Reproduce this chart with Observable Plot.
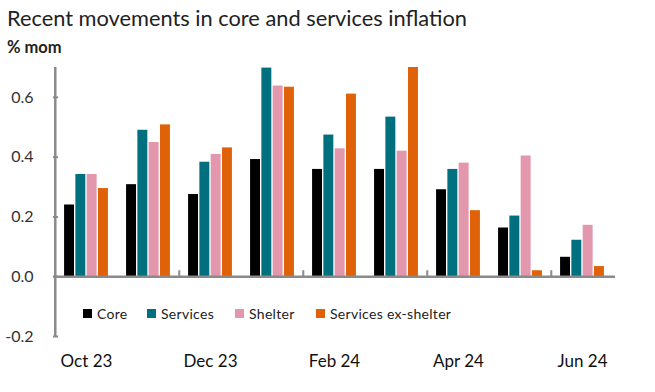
<!DOCTYPE html>
<html><head><meta charset="utf-8">
<script src="https://cdn.jsdelivr.net/npm/d3@7"></script>
<script src="https://cdn.jsdelivr.net/npm/@observablehq/plot@0.6"></script>
<style>
body{margin:0;background:#fff;font-family:Lato,"Open Sans",sans-serif;}
#wrap{position:relative;width:655px;height:392px;overflow:hidden;background:#fff}
#title{position:absolute;left:7px;top:4px;font-size:21.8px;color:#222;white-space:nowrap}
#unit{position:absolute;left:7px;top:37px;font-size:16.5px;font-weight:bold;color:#222;white-space:nowrap}
#chart{position:absolute;left:0;top:55px}
#legend{position:absolute;left:0;top:305px;width:655px;height:20px;font-size:14px;letter-spacing:0.3px;color:#222}
#legend .item{position:absolute;top:0;display:flex;align-items:center;white-space:nowrap}
#legend .sw{width:9px;height:9px;margin-right:5px}
</style></head>
<body><div id="wrap">
<div id="title">Recent movements in core and services inflation</div>
<div id="unit">% mom</div>
<div id="chart"></div>
<div id="legend"></div>
</div>
<script>
const months = ["Oct 23","Nov 23","Dec 23","Jan 24","Feb 24","Mar 24","Apr 24","May 24","Jun 24"];
const core      = [0.240, 0.308, 0.275, 0.392, 0.359, 0.359, 0.291, 0.163, 0.065];
const services  = [0.342, 0.490, 0.383, 0.698, 0.474, 0.534, 0.359, 0.203, 0.122];
const shelter   = [0.342, 0.449, 0.409, 0.638, 0.428, 0.420, 0.380, 0.404, 0.172];
const exShelter = [0.295, 0.508, 0.431, 0.634, 0.611, 0.700, 0.221, 0.020, 0.034];
const seriesNames = ["Core","Services","Shelter","Services ex-shelter"];
const seriesColors = ["#000000","#006f7e","#e397ad","#df6208"];
const yTicks = [-0.2, 0, 0.2, 0.4, 0.6];
const yDomain = [-0.2, 0.7];
const xLabels = ["Oct 23","Dec 23","Feb 24","Apr 24","Jun 24"];
const boundaryMonths = ["Dec 23","Feb 24","Apr 24","Jun 24"];
const legendLeft = [83, 147, 235, 316];

const seriesValues = [core, services, shelter, exShelter];
const rows = [];
seriesNames.forEach((s, i) => months.forEach((m, j) => rows.push({month: m, series: s, value: seriesValues[i][j]})));

const W = 655, H = 337, ML = 53, MR = 40, MT = 12, MB = 56;
const bw = (W - ML - MR) / months.length;
const barW = 10.4, gap = 0.9;
const groupW = seriesNames.length * barW + (seriesNames.length - 1) * gap;
const off = (bw - groupW) / 2;
const pxPerUnit = (H - MT - MB) / (yDomain[1] - yDomain[0]);
const axisGrey = "#8a8a8a";

const barMarks = seriesNames.map((s, i) => {
  const left = off + i * (barW + gap);
  return Plot.barY(rows.filter(r => r.series === s), {
    x: "month", y: "value", fill: seriesColors[i],
    insetLeft: left, insetRight: bw - left - barW
  });
});

const chart = Plot.plot({
  width: W, height: H,
  marginLeft: ML, marginRight: MR, marginTop: MT, marginBottom: MB,
  style: {fontFamily: "Lato, 'Open Sans', sans-serif", background: "transparent"},
  x: {domain: months, padding: 0, label: null},
  y: {domain: yDomain, label: null},
  marks: [
    ...barMarks,
    Plot.ruleY([0], {stroke: axisGrey, strokeWidth: 2.5}),
    Plot.ruleX([months[0]], {x: d => d, dx: -bw / 2, y1: yDomain[0], y2: yDomain[1], stroke: axisGrey, strokeWidth: 2.5}),
    Plot.ruleX(boundaryMonths, {x: d => d, dx: -bw / 2, y1: 0, y2: 6 / pxPerUnit, stroke: axisGrey, strokeWidth: 2}),
    Plot.axisY({ticks: yTicks, text: null, tickSize: 5, dx: 5, stroke: axisGrey, strokeWidth: 2}),
    Plot.axisY({ticks: yTicks, tickSize: 0, tickPadding: 20, fontSize: 16, color: "#333", tickFormat: d => d.toFixed(1)}),
    Plot.axisX({ticks: xLabels, tickSize: 0, tickPadding: 18, fontSize: 17, color: "#111"})
  ]
});
document.getElementById("chart").appendChild(chart);

const legend = document.getElementById("legend");
seriesNames.forEach((s, i) => {
  const it = document.createElement("div"); it.className = "item"; it.style.left = legendLeft[i] + "px";
  const sw = document.createElement("div"); sw.className = "sw"; sw.style.background = seriesColors[i];
  const t = document.createElement("span"); t.textContent = s;
  it.appendChild(sw); it.appendChild(t); legend.appendChild(it);
});
</script>
</body></html>
